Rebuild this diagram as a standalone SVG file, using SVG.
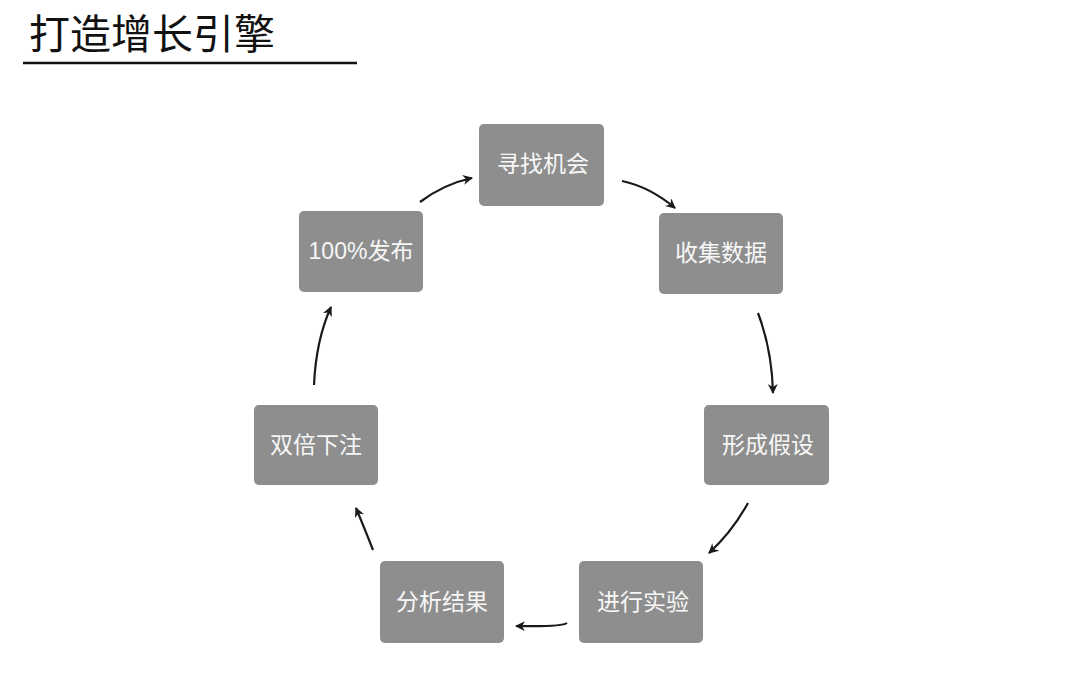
<svg xmlns="http://www.w3.org/2000/svg" width="1080" height="686" viewBox="0 0 1080 686">
<style>
.title{font-family:"Noto Sans CJK SC","Liberation Sans",sans-serif;font-size:41px;fill:#111}
.box{fill:#8e8e8e}
.lbl{font-family:"Liberation Sans","Noto Sans CJK SC",sans-serif;font-size:23px;fill:#f7f7f7;text-anchor:middle;dominant-baseline:central}
.edge{fill:none;stroke:#1a1a1a;stroke-width:2.2}
</style>
<defs>
<marker id="ah" viewBox="0 0 10 10" refX="9" refY="5" markerWidth="10" markerHeight="10" orient="auto" markerUnits="userSpaceOnUse">
<path d="M0,0 L10,5 L0,10 L3,5 Z" fill="#1a1a1a"/>
</marker>
</defs>
<rect width="1080" height="686" fill="#fff"/>
<g id="title">
<text class="title" x="29" y="49">打造增长引擎</text>
<line x1="23" y1="63" x2="357" y2="63" stroke="#111" stroke-width="2.5"/>
</g>
<g id="n1"><rect class="box" x="479" y="124" width="125" height="82" rx="5"/><text class="lbl" x="543" y="164">寻找机会</text></g>
<g id="n2"><rect class="box" x="659" y="213" width="124" height="81" rx="5"/><text class="lbl" x="721" y="253">收集数据</text></g>
<g id="n3"><rect class="box" x="704" y="405" width="125" height="80" rx="5"/><text class="lbl" x="768" y="445">形成假设</text></g>
<g id="n4"><rect class="box" x="579" y="561" width="124" height="82" rx="5"/><text class="lbl" x="643" y="602">进行实验</text></g>
<g id="n5"><rect class="box" x="380" y="561" width="124" height="82" rx="5"/><text class="lbl" x="442" y="602">分析结果</text></g>
<g id="n6"><rect class="box" x="254" y="405" width="124" height="80" rx="5"/><text class="lbl" x="316" y="445">双倍下注</text></g>
<g id="n7"><rect class="box" x="299" y="211" width="124" height="81" rx="5"/><text class="lbl" x="361" y="251">100%发布</text></g>
<g id="connectors">
<path class="edge" marker-end="url(#ah)" d="M420,202 Q444,184 472,178"/>
<path class="edge" marker-end="url(#ah)" d="M622,181 Q650,187 675,208"/>
<path class="edge" marker-end="url(#ah)" d="M758,313 Q772,350 773,393"/>
<path class="edge" marker-end="url(#ah)" d="M748,503 Q732,532 709,553"/>
<path class="edge" marker-end="url(#ah)" d="M567,623 Q562,627 516,626"/>
<path class="edge" marker-end="url(#ah)" d="M373,550 Q364,527 356,508"/>
<path class="edge" marker-end="url(#ah)" d="M314,385 Q316,340 331,307"/>
</g>
</svg>
